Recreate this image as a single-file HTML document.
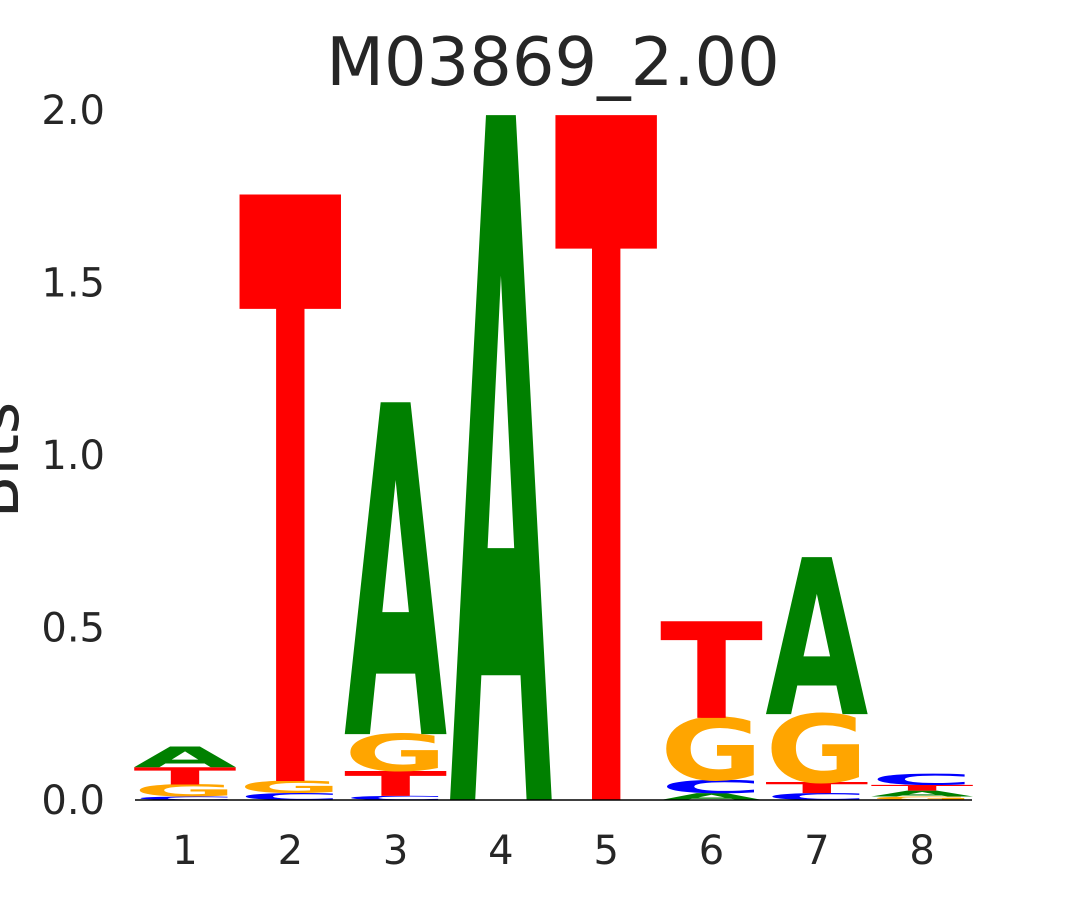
<!DOCTYPE html>
<html><head><meta charset="utf-8"><style>
html,body{margin:0;padding:0;background:#fff;overflow:hidden;width:1080px;height:900px;}
svg{display:block;font-family:"DejaVu Sans","Liberation Sans",sans-serif;}
</style></head><body>
<svg id="chart" width="1080" height="900" viewBox="0 0 1080 900" overflow="hidden">
<text x="553" y="85" font-size="67" text-anchor="middle" fill="#262626">M03869_2.00</text>
<text transform="translate(18,460) rotate(-90)" font-size="62" text-anchor="middle" fill="#262626">Bits</text>
<g id="yticks"></g>
<g id="xticks"></g>
<g id="letters"></g>
<line x1="135" y1="800" x2="972" y2="800" stroke="#000" stroke-width="1.5"/>
</svg>
<script>
const positions = [1,2,3,4,5,6,7,8];
const yTicks = [0,0.5,1.0,1.5,2.0];
const yTickLabels = ["0.0","0.5","1.0","1.5","2.0"];
// stacks bottom-to-top per position: [letter, bits]
const stack1 = [["C",0.01],["G",0.035],["T",0.05],["A",0.06]];
const stack2 = [["C",0.02],["G",0.035],["T",1.70]];
const stack3 = [["C",0.012],["T",0.072],["G",0.107],["A",0.962]];
const stack4 = [["A",1.985]];
const stack5 = [["T",1.985]];
const stack6 = [["A",0.02],["C",0.038],["G",0.18],["T",0.28]];
const stack7 = [["C",0.02],["T",0.032],["G",0.197],["A",0.455]];
const stack8 = [["G",0.01],["A",0.017],["T",0.017],["C",0.032]];
const stacks = [stack1,stack2,stack3,stack4,stack5,stack6,stack7,stack8];
const colors = {A:"#008000",C:"#0000ff",G:"#ffa500",T:"#ff0000"};
const NS="http://www.w3.org/2000/svg";
const yScale = v => 800 - v*345;
const xScale = p => 185 + (p-1)*105.3;
const yt=document.getElementById('yticks');
yTicks.forEach((v,i)=>{
  const t=document.createElementNS(NS,'text');
  
  
  t.setAttribute('x',105);t.setAttribute('y',yScale(v)+14);
  t.setAttribute('font-size',40);t.setAttribute('text-anchor','end');t.setAttribute('fill','#262626');
  t.textContent=yTickLabels[i];yt.appendChild(t);
});
const xt=document.getElementById('xticks');
positions.forEach(p=>{
  const t=document.createElementNS(NS,'text');
  
  
  t.setAttribute('x',xScale(p));t.setAttribute('y',864);
  t.setAttribute('font-size',40);t.setAttribute('text-anchor','middle');t.setAttribute('fill','#262626');
  t.textContent=p;xt.appendChild(t);
});
const lg=document.getElementById('letters');
stacks.forEach((st,i)=>{
  let base=0;
  const cx=xScale(positions[i]);
  st.forEach(([L,v])=>{
    const yb=yScale(base), h=v*345;
    base+=v;
    const t=document.createElementNS(NS,'text');
    
    
    t.setAttribute('x',0);t.setAttribute('y',0);
    t.setAttribute('font-size',100);t.setAttribute('font-weight','bold');
    t.setAttribute('textLength',100);t.setAttribute('lengthAdjust','spacingAndGlyphs');
    t.setAttribute('fill',colors[L]);
    const sx=1.03, sy=h/72.9;
    t.setAttribute('transform',`translate(${cx-51.5},${yb}) scale(${sx},${sy})`);
    t.textContent=L;lg.appendChild(t);
  });
});
</script>
</body></html>
